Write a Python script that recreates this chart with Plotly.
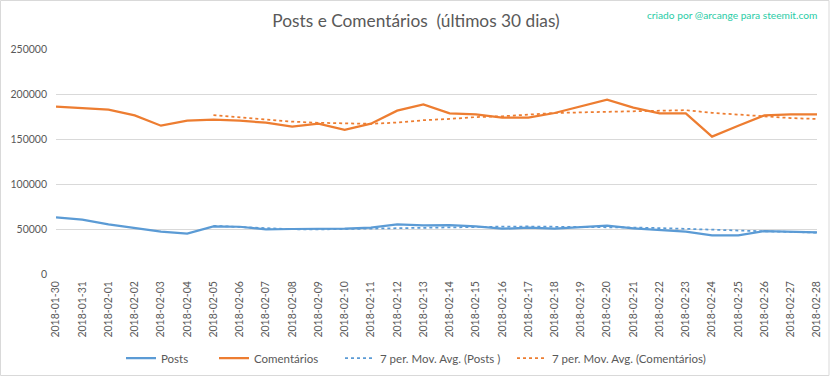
import plotly.graph_objects as go

dates = ["2018-01-30", "2018-01-31", "2018-02-01", "2018-02-02", "2018-02-03", "2018-02-04",
         "2018-02-05", "2018-02-06", "2018-02-07", "2018-02-08", "2018-02-09", "2018-02-10",
         "2018-02-11", "2018-02-12", "2018-02-13", "2018-02-14", "2018-02-15", "2018-02-16",
         "2018-02-17", "2018-02-18", "2018-02-19", "2018-02-20", "2018-02-21", "2018-02-22",
         "2018-02-23", "2018-02-24", "2018-02-25", "2018-02-26", "2018-02-27", "2018-02-28"]

posts = [62900, 60300, 55200, 51400, 47000, 44800, 52900, 52500, 49600, 50000,
         50000, 50300, 51400, 55200, 54000, 54400, 52900, 50300, 51400, 50300,
         52100, 53700, 50700, 48500, 47000, 42900, 42900, 47700, 46600, 46300]

comentarios = [185900, 184400, 182600, 176300, 164800, 170400, 171500, 170400, 168100, 163700,
               167000, 160300, 167000, 181500, 188500, 178500, 177400, 173700, 173700, 178900,
               186300, 193700, 184800, 178500, 178500, 152600, 164800, 176300, 177400, 177400]

posts_ma = [None, None, None, None, None, None,
            53500, 52010, 50490, 49740, 49540, 50010, 50960, 51290, 51500, 52190,
            52600, 52640, 52800, 52640, 52200, 52160, 51630, 51000, 50530, 49310,
            48260, 47630, 46610, 45990]

comentarios_ma = [None, None, None, None, None, None,
                  176570, 174340, 172000, 169300, 168000, 167340, 166860, 168290, 170870, 172360,
                  174310, 175270, 177190, 178890, 179570, 180310, 181210, 181370, 182060, 179040,
                  177030, 175600, 173270, 172210]

y_ticks = [0, 50000, 100000, 150000, 200000, 250000]

BLUE = "#5B9BD5"
ORANGE = "#ED7D31"
TXT = "#595959"
FONT = "Lato, 'Open Sans', sans-serif"

W, H = 832, 378
L, R, T, B = 56, 15, 49, 104
pw, ph = W - L - R, H - T - B


def px_x(p):
    return (p - L) / pw


def px_y(p):
    return (H - B - p) / ph


fig = go.Figure()
fig.add_trace(go.Scatter(x=dates, y=posts, name="Posts", mode="lines",
                         line=dict(color=BLUE, width=2.25), legend="legend"))
fig.add_trace(go.Scatter(x=dates, y=comentarios, name="Comentários", mode="lines",
                         line=dict(color=ORANGE, width=2.25), legend="legend2"))
fig.add_trace(go.Scatter(x=dates, y=posts_ma, name="7 per. Mov. Avg. (Posts )", mode="lines",
                         line=dict(color=BLUE, width=1.75, dash="dot"), legend="legend3"))
fig.add_trace(go.Scatter(x=dates, y=comentarios_ma, name="7 per. Mov. Avg. (Comentários)", mode="lines",
                         line=dict(color=ORANGE, width=1.75, dash="dot"), legend="legend4"))


def leg(px):
    return dict(orientation="h", x=px / W, xanchor="left", xref="container",
                y=1 - 358 / H, yanchor="middle", yref="container",
                font=dict(size=11.5, color=TXT), bgcolor="rgba(0,0,0,0)")


fig.update_layout(
    width=W, height=H,
    margin=dict(l=L, r=R, t=T, b=B, autoexpand=False),
    paper_bgcolor="white", plot_bgcolor="white",
    font=dict(family=FONT, color=TXT, size=11),
    title=dict(text="Posts e Comentários  (últimos 30 dias)", x=0.5, xanchor="center",
               y=1 - 21 / H, yanchor="middle", yref="container",
               font=dict(family=FONT, size=17.3, color=TXT)),
    xaxis=dict(type="category", tickangle=-90, showgrid=False, showline=False,
               ticks="", tickfont=dict(size=10.5, color=TXT), zeroline=False,
               automargin=False, ticklabelstandoff=4),
    yaxis=dict(range=[0, 250000], tickvals=y_ticks, tickformat="d",
               showgrid=True, gridcolor="#D9D9D9", gridwidth=1, zeroline=False,
               showline=False, ticks="", tickfont=dict(size=10.5, color=TXT),
               automargin=False, ticklabelstandoff=8),
    legend=leg(121),
    legend2=leg(214),
    legend3=leg(340),
    legend4=leg(512),
    showlegend=True,
)

fig.add_annotation(text="criado por @arcange para steemit.com", xref="paper", yref="paper",
                   x=px_x(819), y=px_y(15), xanchor="right", yanchor="middle",
                   showarrow=False, font=dict(family=FONT, size=10.2, color="#2ACCA6"))

fig.add_shape(type="rect", xref="paper", yref="paper",
              x0=px_x(0.5), x1=px_x(829), y0=px_y(375.5), y1=px_y(0.5),
              line=dict(color="#D9D9D9", width=1), fillcolor="rgba(0,0,0,0)", layer="below")

fig.write_html("out.html", config={"displayModeBar": False},
               post_script="document.body.style.margin='0px';document.body.style.padding='0px';")
